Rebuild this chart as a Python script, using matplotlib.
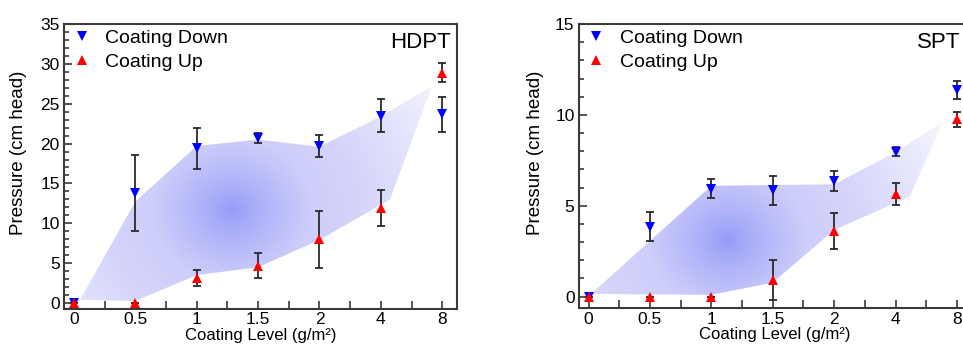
import numpy as np
import matplotlib
matplotlib.use("Agg")
import matplotlib.pyplot as plt
from matplotlib.patches import Polygon
from matplotlib.ticker import MultipleLocator, FixedLocator

plt.rcParams['font.family'] = ['Liberation Sans', 'DejaVu Sans']

# ---------------- data ----------------
categories = ["0", "0.5", "1", "1.5", "2", "4", "8"]

hdpt_down = [0.0, 13.8, 19.4, 20.7, 19.7, 23.5, 23.7]
hdpt_down_err = [0.0, 4.8, 2.6, 0.6, 1.4, 2.1, 2.2]
hdpt_up = [0.0, 0.0, 3.1, 4.7, 8.0, 11.9, 28.9]
hdpt_up_err = [0.0, 0.0, 1.0, 1.6, 3.6, 2.3, 1.2]

spt_down = [0.0, 3.85, 5.95, 5.85, 6.35, 7.97, 11.35]
spt_down_err = [0.0, 0.8, 0.5, 0.8, 0.55, 0.25, 0.5]
spt_up = [0.0, 0.0, 0.0, 0.9, 3.6, 5.65, 9.75]
spt_up_err = [0.0, 0.0, 0.0, 1.1, 1.0, 0.63, 0.43]

# shaded envelope (category index, value)
hdpt_env_x = [0.1, 1.0, 2.0, 3.0, 4.0, 5.0, 5.83, 5.15, 4.0, 3.0, 2.0, 1.0]
hdpt_env_y = [0.4, 12.7, 19.7, 20.5, 19.6, 23.4, 27.2, 13.0, 7.9, 4.5, 3.5, 0.25]
spt_env_x = [0.04, 2.0, 4.0, 5.0, 5.77, 5.23, 4.0, 3.0, 2.0]
spt_env_y = [0.15, 6.1, 6.18, 7.95, 9.63, 5.5, 3.67, 0.77, 0.1]

W, H = 963, 352
fig = plt.figure(figsize=(W / 100, H / 100), dpi=100)

BLUE = '#0000ff'
RED = '#ff0000'
ECOL = '#2a2a2a'
SPINE = '#3a3a3a'


def gradient_fill(ax, xs, ys, center, xlim, ylim, axw_px, axh_px):
    nx, ny = 500, 400
    gx = np.linspace(xlim[0], xlim[1], nx)
    gy = np.linspace(ylim[0], ylim[1], ny)
    X, Y = np.meshgrid(gx, gy)
    ppx = axw_px / (xlim[1] - xlim[0])
    ppy = axh_px / (ylim[1] - ylim[0])
    dx = (X - center[0]) * ppx
    dy = (Y - center[1]) * ppy
    d = np.sqrt(dx ** 2 + (dy * 1.1) ** 2)
    r1 = 80.0
    c0 = np.array([148, 154, 248]) / 255
    c1 = np.array([206, 206, 250]) / 255
    c2 = np.array([250, 250, 255]) / 255
    t1 = np.clip(d / r1, 0, 1)[..., None]
    t2 = np.clip((d - r1) / 180.0, 0, 1)[..., None]
    col = np.where(d[..., None] <= r1,
                   c0 + (c1 - c0) * t1 ** 0.8,
                   c1 + (c2 - c1) * t2 ** 1.4)
    im = ax.imshow(col, extent=[xlim[0], xlim[1], ylim[0], ylim[1]],
                   origin='lower', aspect='auto', zorder=1,
                   interpolation='bilinear')
    poly = Polygon(np.column_stack([xs, ys]), closed=True,
                   facecolor='none', edgecolor='none', transform=ax.transData)
    ax.add_patch(poly)
    im.set_clip_path(poly)


def panel(rect, down, down_err, up, up_err, env_x, env_y, center,
          ylim, ymajor, name, name_pad, ylab_x):
    ax = fig.add_axes(rect)
    x = np.arange(len(categories))
    xlim = (-0.16, 6.24)
    ax.set_xlim(*xlim)
    ax.set_ylim(*ylim)
    axw = rect[2] * W
    axh = rect[3] * H
    gradient_fill(ax, env_x, env_y, center, xlim, ylim, axw, axh)

    ax.errorbar(x, down, yerr=down_err, fmt='none', ecolor=ECOL,
                elinewidth=1.3, capsize=2.6, capthick=1.3, zorder=3)
    ax.errorbar(x, up, yerr=up_err, fmt='none', ecolor=ECOL,
                elinewidth=1.3, capsize=2.6, capthick=1.3, zorder=3)
    ax.plot(x, down, linestyle='none', marker='v', color=BLUE,
            markersize=7.5, markeredgewidth=0, zorder=4, label='Coating Down')
    ax.plot(x, up, linestyle='none', marker='^', color=RED,
            markersize=7.5, markeredgewidth=0, zorder=5, label='Coating Up')

    ax.set_xticks(x)
    ax.set_xticklabels(categories)
    ax.xaxis.set_minor_locator(FixedLocator(x[:-1] + 0.5))
    ax.yaxis.set_major_locator(MultipleLocator(ymajor))
    ax.yaxis.set_minor_locator(MultipleLocator(1))
    ax.tick_params(axis='both', which='both', direction='in', top=False,
                   right=False, color=SPINE, width=1.2)
    ax.tick_params(axis='both', which='major', length=5.5, labelsize=12.5,
                   pad=3)
    ax.tick_params(axis='x', which='major', pad=2.5)
    ax.tick_params(axis='both', which='minor', length=3.5)
    ax.tick_params(axis='x', which='minor', length=5.5)
    for s in ax.spines.values():
        s.set_color(SPINE)
        s.set_linewidth(1.5)

    ax.set_xlabel('Coating Level (g/m\u00b2)', fontsize=12, labelpad=0.5)
    ax.set_ylabel('Pressure (cm head)', fontsize=13.5)
    ax.yaxis.set_label_coords(ylab_x, 0.547)

    ax.legend(loc='upper left', frameon=False, fontsize=14,
              handlelength=1.0, handletextpad=0.7, borderaxespad=0.0,
              labelspacing=0.33, borderpad=0.2,
              bbox_to_anchor=(4.1 / axw, 1.0 - 1.5 / axh))
    ax.text(1 - name_pad / axw, 1 - 8 / axh, name, transform=ax.transAxes,
            ha='right', va='top', fontsize=16)
    return ax


panel([64 / W, 43 / H, 393 / W, 285 / H],
      hdpt_down, hdpt_down_err, hdpt_up, hdpt_up_err,
      hdpt_env_x, hdpt_env_y, (2.57, 11.7), (-0.75, 35), 5, 'HDPT', 6,
      -0.094)
panel([578.7 / W, 43.7 / H, 393 / W, 284.3 / H],
      spt_down, spt_down_err, spt_up, spt_up_err,
      spt_env_x, spt_env_y, (2.26, 3.1), (-0.64, 15), 5, 'SPT', 11,
      -0.088)

fig.savefig('out.png', dpi=100)
